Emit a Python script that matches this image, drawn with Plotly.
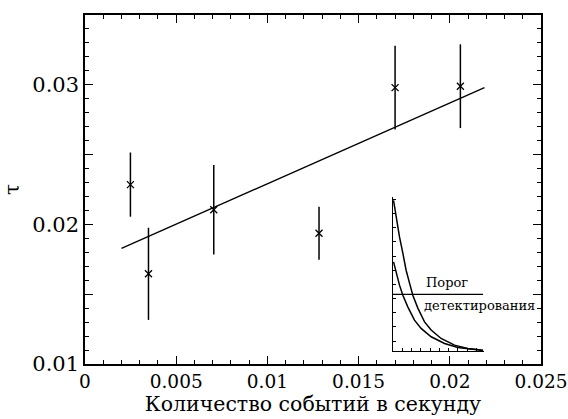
import plotly.graph_objects as go

# Main data: rate of events vs tau
rate = [0.00249, 0.00348, 0.00706, 0.01283, 0.01700, 0.02058]
tau = [0.02285, 0.01646, 0.02105, 0.01937, 0.02980, 0.02990]
tau_err = [0.0023, 0.0033, 0.0032, 0.0019, 0.0030, 0.0030]

fit_x = [0.0020, 0.0219]
fit_y = [0.01828, 0.02980]

x_tickvals = [0, 0.005, 0.01, 0.015, 0.02, 0.025]
x_ticktext = ["0", "0.005", "0.01", "0.015", "0.02", "0.025"]
y_tickvals = [0.01, 0.015, 0.02, 0.025, 0.03, 0.035]
y_ticktext = ["0.01", "", "0.02", "", "0.03", ""]

# Inset: two decay curves and a detection threshold (arbitrary units)
inset_outer_x = [0.08, 0.35, 0.72, 1.08, 1.43, 1.80, 2.15, 2.69, 3.41, 4.12, 5.19, 6.63, 8.06, 9.49, 9.70]
inset_outer_y = [10.63, 9.46, 8.05, 6.90, 5.70, 4.79, 3.94, 3.03, 2.06, 1.48, 0.89, 0.42, 0.19, 0.07, 0.06]
inset_inner_x = [0.08, 0.35, 0.72, 1.08, 1.61, 2.33, 3.04, 4.12, 5.56, 6.99, 8.42, 9.49, 9.70]
inset_inner_y = [6.29, 5.58, 4.65, 3.94, 3.12, 2.18, 1.60, 1.01, 0.54, 0.26, 0.12, 0.05, 0.04]
threshold_x = [0, 9.7]
threshold_y = [4.0, 4.0]

FONT = "DejaVu Serif"

fig = go.Figure()

fig.add_trace(go.Scatter(
    x=rate, y=tau, mode="markers",
    marker=dict(symbol="x-thin", size=7, line=dict(width=1.3, color="black"), color="black"),
    error_y=dict(type="data", array=tau_err, visible=True, color="black", thickness=1.5, width=0),
    showlegend=False,
))
fig.add_trace(go.Scatter(
    x=fit_x, y=fit_y, mode="lines",
    line=dict(color="black", width=1.3), showlegend=False,
))

# invisible trace to activate the mirrored (top/right) tick axes
fig.add_trace(go.Scatter(
    x=[0.0], y=[0.01], mode="markers", xaxis="x3", yaxis="y3",
    marker=dict(opacity=0), showlegend=False, hoverinfo="skip",
))

fig.add_trace(go.Scatter(
    x=inset_outer_x, y=inset_outer_y, mode="lines", xaxis="x2", yaxis="y2",
    line=dict(color="black", width=1.5), showlegend=False,
))
fig.add_trace(go.Scatter(
    x=inset_inner_x, y=inset_inner_y, mode="lines", xaxis="x2", yaxis="y2",
    line=dict(color="black", width=1.5), showlegend=False,
))
fig.add_trace(go.Scatter(
    x=threshold_x, y=threshold_y, mode="lines", xaxis="x2", yaxis="y2",
    line=dict(color="black", width=1.3), showlegend=False,
))

tick_common = dict(ticks="inside", ticklen=8, tickwidth=1.2, tickcolor="black",
                   showgrid=False, zeroline=False)

fig.update_layout(
    width=568, height=419,
    margin=dict(l=85, r=27, t=15, b=55),
    paper_bgcolor="white", plot_bgcolor="white",
    font=dict(family=FONT, color="black", size=20),
    xaxis=dict(
        range=[0, 0.025], tickvals=x_tickvals, ticktext=x_ticktext,
        minor=dict(dtick=0.001, tick0=0, ticks="inside", ticklen=4, tickwidth=1.2, tickcolor="black"),
        showline=True, linewidth=1.5, linecolor="black", mirror=True,
        tickfont=dict(size=18.5, family=FONT), automargin=False, ticklabelstandoff=0,
        title=dict(text="Количество событий в секунду", font=dict(size=20.5, family=FONT), standoff=0),
        **tick_common,
    ),
    yaxis=dict(
        range=[0.01, 0.035], tickvals=y_tickvals, ticktext=y_ticktext,
        minor=dict(dtick=0.001, tick0=0.01, ticks="inside", ticklen=4, tickwidth=1.2, tickcolor="black"),
        showline=True, linewidth=1.5, linecolor="black", mirror=True,
        tickfont=dict(size=21, family=FONT), automargin=False,
        title=dict(text="τ", font=dict(size=20, family=FONT), standoff=16),
        **tick_common,
    ),
    xaxis3=dict(
        overlaying="x", side="top", anchor="y", range=[0, 0.025], tickvals=x_tickvals,
        showticklabels=False,
        minor=dict(dtick=0.001, tick0=0, ticks="inside", ticklen=4, tickwidth=1.2, tickcolor="black"),
        **tick_common,
    ),
    yaxis3=dict(
        overlaying="y", side="right", anchor="x", range=[0.01, 0.035], tickvals=y_tickvals,
        showticklabels=False,
        minor=dict(dtick=0.001, tick0=0.01, ticks="inside", ticklen=4, tickwidth=1.2, tickcolor="black"),
        **tick_common,
    ),
    xaxis2=dict(
        domain=[0.675, 0.875], anchor="y2", range=[0, 9.8],
        tick0=0, dtick=1, ticks="inside", ticklen=3, tickwidth=1, tickcolor="black",
        showticklabels=False, showline=True, linewidth=1.3, linecolor="black",
        showgrid=False, zeroline=False,
    ),
    yaxis2=dict(
        domain=[0.037, 0.478], anchor="x2", range=[0, 10.85],
        tick0=0.7, dtick=1, ticks="inside", ticklen=3, tickwidth=1, tickcolor="black",
        showticklabels=False, showline=True, linewidth=1.3, linecolor="black",
        showgrid=False, zeroline=False,
    ),
    annotations=[
        dict(text="Порог", x=3.33, y=4.15, xref="x2", yref="y2", xanchor="left", yanchor="bottom",
             showarrow=False, font=dict(size=13, family=FONT)),
        dict(text="детектирования", x=3.1, y=3.85, xref="x2", yref="y2", xanchor="left", yanchor="top",
             showarrow=False, font=dict(size=13, family=FONT)),
    ],
)

fig.write_html("out.html", config={"displayModeBar": False},
               post_script="document.body.style.margin='0';")
